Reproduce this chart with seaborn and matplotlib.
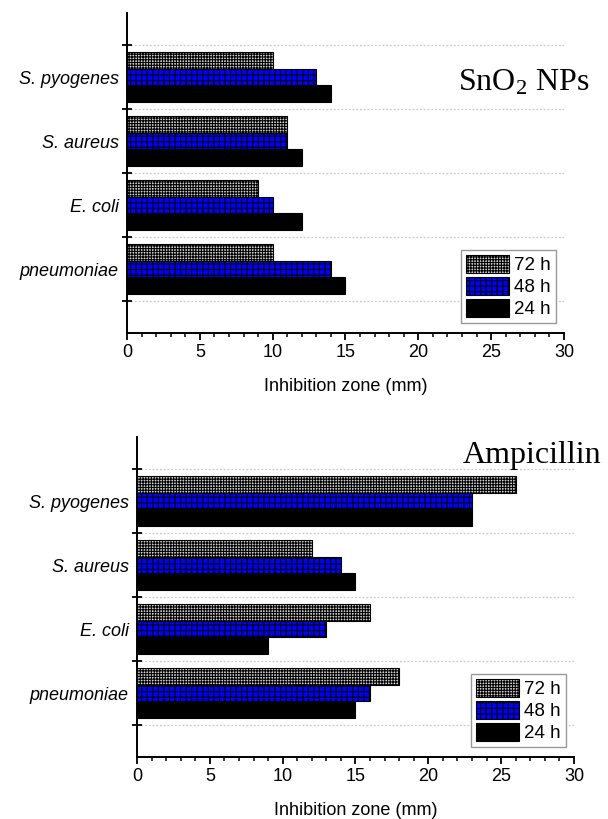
import matplotlib
matplotlib.use("Agg")
import matplotlib.pyplot as plt
import matplotlib.patches as mpatches
from matplotlib.ticker import MultipleLocator, FixedLocator
import seaborn as sns
import pandas as pd

# Bacterial strains (top to bottom) and incubation times
strains = ["S. pyogenes", "S. aureus", "E. coli", "pneumoniae"]
times = ["72 h", "48 h", "24 h"]

# Inhibition zone diameters (mm), SnO2 nanoparticles
sno2_72h = [10, 11, 9, 10]
sno2_48h = [13, 11, 10, 14]
sno2_24h = [14, 12, 12, 15]

# Inhibition zone diameters (mm), ampicillin reference
amp_72h = [26, 12, 16, 18]
amp_48h = [23, 14, 13, 16]
amp_24h = [23, 15, 9, 15]

x_ticks = [0, 5, 10, 15, 20, 25, 30]

bar_style = {
    "72 h": dict(facecolor="#d4d4d4", hatch="++++++"),
    "48 h": dict(facecolor="#0000ff", hatch="+++"),
    "24 h": dict(facecolor="black", hatch=None),
}


def long_table(v72, v48, v24):
    rows = []
    for t, vals in zip(times, [v72, v48, v24]):
        for s, v in zip(strains, vals):
            rows.append({"strain": s, "time": t, "zone": v})
    return pd.DataFrame(rows)


sns.set_style("ticks")
plt.rcParams["font.family"] = ["Liberation Sans", "DejaVu Sans"]
plt.rcParams["hatch.linewidth"] = 0.8
plt.rcParams["mathtext.default"] = "regular"
plt.rcParams["text.color"] = "black"
plt.rcParams["axes.labelcolor"] = "black"
plt.rcParams["xtick.color"] = "black"
plt.rcParams["ytick.color"] = "black"

fig = plt.figure(figsize=(6.08, 8.19), dpi=100)
ax_top = fig.add_axes([0.2089, 0.5934, 0.7187, 0.3907])
ax_bot = fig.add_axes([0.2253, 0.0757, 0.7188, 0.3907])


def draw_panel(ax, df, title, title_xy):
    sns.barplot(data=df, y="strain", x="zone", hue="time", order=strains,
                hue_order=times, orient="h", width=0.78, dodge=True,
                palette=["white", "#0000ff", "black"], errorbar=None,
                legend=False, ax=ax)
    for cont, t in zip(ax.containers, times):
        st = bar_style[t]
        for bar in cont:
            bar.set_facecolor(st["facecolor"])
            bar.set_edgecolor("black")
            bar.set_linewidth(0.8)
            if st["hatch"]:
                bar.set_hatch(st["hatch"])

    ax.set_xlim(0, 30)
    ax.set_ylim(4.0, -1.0)
    ax.xaxis.set_major_locator(FixedLocator(x_ticks))
    ax.xaxis.set_minor_locator(MultipleLocator(1))
    ax.tick_params(axis="x", which="major", direction="out", length=5,
                   width=1.3, labelsize=13, pad=3, colors="black")
    ax.tick_params(axis="x", which="minor", direction="out", length=3,
                   width=1.1)

    ax.set_yticks(range(len(strains)))
    ax.set_yticklabels(strains, fontstyle="italic", fontsize=13, color="black")
    ax.yaxis.set_minor_locator(FixedLocator([-0.5, 0.5, 1.5, 2.5, 3.5]))
    ax.tick_params(axis="y", which="major", length=0, pad=6)
    ax.tick_params(axis="y", which="minor", direction="inout", length=7,
                   width=1.3)
    ax.grid(False)
    ax.yaxis.grid(True, which="minor", color="#c9c9c9", linestyle=(0, (1.5, 1.5)),
                  linewidth=0.9)
    ax.set_axisbelow(True)

    ax.set_ylabel("")
    ax.set_xlabel("Inhibition zone (mm)", fontsize=13, labelpad=12, color="black")
    for side in ("top", "right"):
        ax.spines[side].set_visible(False)
    for side in ("left", "bottom"):
        ax.spines[side].set_linewidth(1.4)
        ax.spines[side].set_color("black")

    handles = []
    for t in times:
        st = bar_style[t]
        handles.append(mpatches.Patch(facecolor=st["facecolor"], edgecolor="black",
                                      hatch=st["hatch"], linewidth=0.8, label=t))
    leg = ax.legend(handles=handles, loc="lower right", bbox_to_anchor=(0.99, 0.02),
                    fontsize=13.5, handlelength=2.3, handleheight=1.15,
                    labelspacing=0.12, handletextpad=0.3, borderpad=0.25,
                    borderaxespad=0.2, fancybox=False, framealpha=1,
                    edgecolor="#999999")
    leg.get_frame().set_linewidth(1.0)
    for txt in leg.get_texts():
        txt.set_color("black")

    ax.text(title_xy[0], title_xy[1], title, transform=ax.transAxes,
            fontsize=23, family=["Liberation Serif", "DejaVu Serif"],
            ha="left", va="baseline", clip_on=False, color="black")


draw_panel(ax_top, long_table(sno2_72h, sno2_48h, sno2_24h),
           r"SnO$_2$ NPs", (0.757, 0.759))
draw_panel(ax_bot, long_table(amp_72h, amp_48h, amp_24h),
           "Ampicillin", (0.746, 0.919))

fig.savefig("out.png", dpi=100)
